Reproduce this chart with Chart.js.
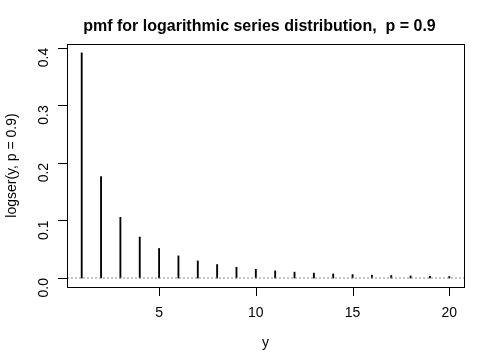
<!DOCTYPE html>
<html>
<head>
<meta charset="utf-8">
<script src="https://cdn.jsdelivr.net/npm/chart.js@4/dist/chart.umd.min.js"></script>
<style>
  html, body { margin: 0; padding: 0; background: #fff; }
  canvas { display: block; }
</style>
</head>
<body>
<canvas id="grafico" width="478" height="357"></canvas>
<script>
// y = 1..20
const categorias = [1, 2, 3, 4, 5, 6, 7, 8, 9, 10, 11, 12, 13, 14, 15, 16, 17, 18, 19, 20];

// probabilidades
const probabilidades = [
    0.391, 0.176, 0.1055, 0.0712, 0.0513, 0.0385, 0.0297, 0.0234, 0.0187, 0.0151,
    0.0124, 0.0102, 0.0085, 0.0071, 0.0060, 0.0050, 0.0043, 0.0036, 0.0031, 0.0026
];

const ticksX = [5, 10, 15, 20];
const ticksY = [0, 0.1, 0.2, 0.3, 0.4];
const rangoX = [0.24, 20.76];
const rangoY = [-0.0156, 0.4065];

const titulo = 'pmf for logarithmic series distribution,  p = 0.9';
const fuente = '"Liberation Sans", Arial, sans-serif';

/*
=====================================
CAJA, MARCAS Y TITULO
=====================================
*/
const caja = {
    id: 'caja',
    afterDraw(chart) {
        const ctx = chart.ctx;
        const a = chart.chartArea;
        const izq = Math.round(a.left);
        const abajo = Math.round(a.bottom);
        ctx.save();
        ctx.setLineDash([]);
        ctx.strokeStyle = '#000';
        ctx.lineWidth = 1;
        ctx.strokeRect(izq + 0.5, Math.round(a.top) + 0.5,
            Math.round(a.right - a.left), Math.round(a.bottom - a.top));

        // marcas de los ejes
        ctx.fillStyle = '#000';
        ticksX.forEach(v => {
            const px = Math.round(chart.scales.x.getPixelForValue(v));
            ctx.fillRect(px, abajo, 1, 9);
        });
        ticksY.forEach(v => {
            const py = Math.round(chart.scales.y.getPixelForValue(v));
            ctx.fillRect(izq - 9, py, 9, 1);
        });

        ctx.font = 'bold 16px ' + fuente;
        ctx.textAlign = 'center';
        ctx.textBaseline = 'middle';
        ctx.fillText(titulo, (a.left + a.right) / 2 - 6, 27);
        ctx.restore();
    }
};

const canvas = document.getElementById('grafico');

new Chart(canvas, {
    type: 'bar',
    data: {
        datasets: [
            {
                type: 'line',
                data: [{ x: rangoX[0], y: 0 }, { x: rangoX[1], y: 0 }],
                borderColor: '#8a8a8a',
                borderWidth: 1,
                borderDash: [2, 2],
                pointRadius: 0
            },
            {
                type: 'bar',
                data: categorias.map((c, i) => ({ x: c, y: probabilidades[i] })),
                backgroundColor: '#000',
                borderWidth: 0,
                barThickness: 1.2
            }
        ]
    },
    options: {
        responsive: false,
        animation: false,
        layout: { padding: { left: 0, right: 14, top: 44, bottom: 0 } },
        plugins: {
            legend: { display: false },
            tooltip: { enabled: false },
            title: { display: false }
        },
        scales: {
            x: {
                type: 'linear',
                min: rangoX[0],
                max: rangoX[1],
                offset: false,
                afterBuildTicks: s => { s.ticks = ticksX.map(v => ({ value: v })); },
                afterFit: s => { s.height = 70; },
                grid: { display: false, drawTicks: false, tickLength: 0 },
                border: { display: false },
                ticks: { color: '#000', font: { family: fuente, size: 14 }, padding: 18, maxRotation: 0 },
                title: {
                    display: true,
                    text: 'y',
                    color: '#000',
                    font: { family: fuente, size: 14 },
                    padding: { top: 0, bottom: 5 }
                }
            },
            y: {
                min: rangoY[0],
                max: rangoY[1],
                afterBuildTicks: s => { s.ticks = ticksY.map(v => ({ value: v })); },
                afterFit: s => { s.width = 67; },
                grid: { display: false, drawTicks: false, tickLength: 0 },
                border: { display: false },
                ticks: {
                    color: '#000',
                    font: { family: fuente, size: 14 },
                    padding: 23,
                    minRotation: 90,
                    maxRotation: 90,
                    callback: v => v.toFixed(1)
                },
                title: {
                    display: true,
                    text: 'logser(y, p = 0.9)',
                    color: '#000',
                    font: { family: fuente, size: 14 },
                    padding: { top: 4, bottom: 0 }
                }
            }
        }
    },
    plugins: [caja]
});
</script>
</body>
</html>
